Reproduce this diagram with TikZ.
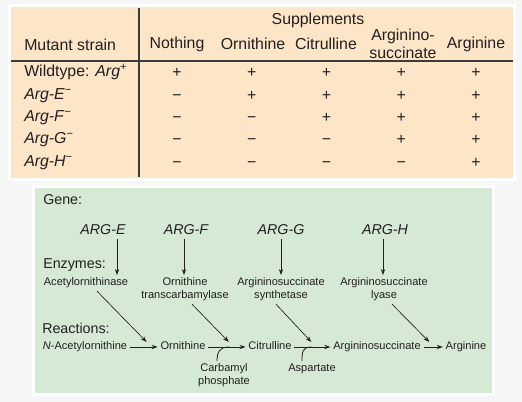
\documentclass[tikz,border=0pt]{standalone}
\usepackage{fontspec}
\setmainfont{Liberation Sans}
\usetikzlibrary{arrows.meta}

\begin{document}
\begin{tikzpicture}[x=0.75pt,y=-0.75pt,
  every node/.style={text=ink},
  big/.style={font=\fontsize{11.9}{13.5}\selectfont,inner sep=0pt,align=center},
  rowlbl/.style={big,anchor=west,text height=8.6pt,text depth=2.2pt},
  cellmark/.style={big,anchor=base},
  head/.style={font=\fontsize{10.7}{12.8}\selectfont,inner sep=0pt,anchor=west},
  gene/.style={font=\fontsize{10.7}{12.8}\selectfont\itshape,inner sep=3pt},
  small/.style={font=\fontsize{8.3}{9.75}\selectfont,align=center,inner sep=2pt},
  rxn/.style={small,text height=6pt,text depth=1.8pt},
  arr/.style={draw=ink,line width=0.6pt,-{Stealth[length=4.5pt,width=3.2pt]}},
  tablerule/.style={draw=rulegrey,line width=0.8pt}]
\definecolor{ink}{HTML}{231F20}
\definecolor{rulegrey}{HTML}{3C3C3C}
\definecolor{bggrey}{HTML}{F6F6F6}
\definecolor{tan}{HTML}{FDE5C8}
\definecolor{mint}{HTML}{D5E9D4}
\useasboundingbox (0,0) rectangle (522,402);
% panels
\fill[bggrey] (0,0) rectangle (522,402);
\fill[white] (8,4) rectangle (516,181);
\fill[tan] (11,7) rectangle (513,178);
\fill[white] (32,185) rectangle (495,396);
\fill[mint] (35,188) rectangle (492,393);
% table
\draw[tablerule] (139,8) -- (139,177);
\draw[tablerule] (11,61) -- (513,61);
\node[big] (suppl) at (318,20) {Supplements};
\node[big,anchor=west] (strain) at (24,45) {Mutant strain};
\foreach \nm/\hx/\txt in {nothing/177/Nothing, orn/253/Ornithine, cit/326/Citrulline,
  argsucc/403/{Arginino-\\succinate}, arg/476/Arginine}
  {\node[big] (h-\nm) at (\hx,44) {\txt};}
\foreach \r/\ry/\lbl in {1/72/{Wildtype: \textit{Arg}\textsuperscript{+}},
  2/95/{\textit{Arg-E}\textsuperscript{−}}, 3/117/{\textit{Arg-F}\textsuperscript{−}},
  4/139/{\textit{Arg-G}\textsuperscript{−}}, 5/162/{\textit{Arg-H}\textsuperscript{−}}}
  {\node[rowlbl] (strain-\r) at (24,\ry) {\lbl};}
\foreach \r/\ry/\marks in {1/72/{+,+,+,+,+}, 2/95/{−,+,+,+,+}, 3/117/{−,−,+,+,+},
  4/139/{−,−,−,+,+}, 5/162/{−,−,−,−,+}}
  {\foreach \s [count=\c] in \marks
    {\node[cellmark] (cell-\r-\c) at ({177+74.75*(\c-1)},{\ry+5.5}) {\s};}}
% pathway
\node[head] (lgene) at (43,200) {Gene:};
\node[head] (lenz) at (43,265) {Enzymes:};
\node[head] (lreac) at (42,328) {Reactions:};
\foreach \g/\gx/\ex/\enz in {E/103/86/Acetylornithinase, F/186/185/{Ornithine\\transcarbamylase},
  G/281/281/{Argininosuccinate\\synthetase}, H/385/384/{Argininosuccinate\\lyase}}
  {\node[gene] (gene\g) at (\gx,230) {ARG-\g};
   \node[small,anchor=north] (enz\g) at (\ex,275) {\enz};}
\foreach \g/\s in {E/10.5pt, F/-1.5pt, G/0pt, H/-1.5pt}
  {\draw[arr] ([xshift=\s]gene\g.south) -- ([xshift=\s]gene\g.south |- enz\g.north);}
\node[rxn] (nacet) at (85,347) {\textit{N}-Acetylornithine};
\node[rxn] (ornith) at (183,347) {Ornithine};
\node[rxn] (citrul) at (270,347) {Citrulline};
\node[rxn] (asucc) at (377,347) {Argininosuccinate};
\node[rxn] (argin) at (466,347) {Arginine};
\draw[arr] (nacet) -- coordinate[pos=.6] (m1) (ornith);
\draw[arr] (ornith) -- coordinate[pos=.55] (m2) (citrul);
\draw[arr] (citrul) -- coordinate[pos=.47] (m3) (asucc);
\draw[arr] (asucc) -- coordinate[pos=.3] (m4) (argin);
\foreach \g/\s/\m in {E/8.25pt/m1, F/5.25pt/m2, G/-3.75pt/m3, H/6pt/m4}
  {\draw[arr,line width=0.5pt] ([xshift=\s]enz\g.south) -- ([yshift=3.75pt]\m);}
\node[small,anchor=north] (carb) at (224,361) {Carbamyl\\phosphate};
\node[small,anchor=north] (aspart) at (312,361) {Aspartate};
\draw[draw=ink,line width=0.6pt] ([xshift=-5.25pt]carb.north) .. controls +(0,-9) and +(-9,0) .. (m2);
\draw[draw=ink,line width=0.6pt] ([xshift=-7.5pt]aspart.north) .. controls +(0,-9) and +(-9,0) .. (m3);
\end{tikzpicture}
\end{document}
